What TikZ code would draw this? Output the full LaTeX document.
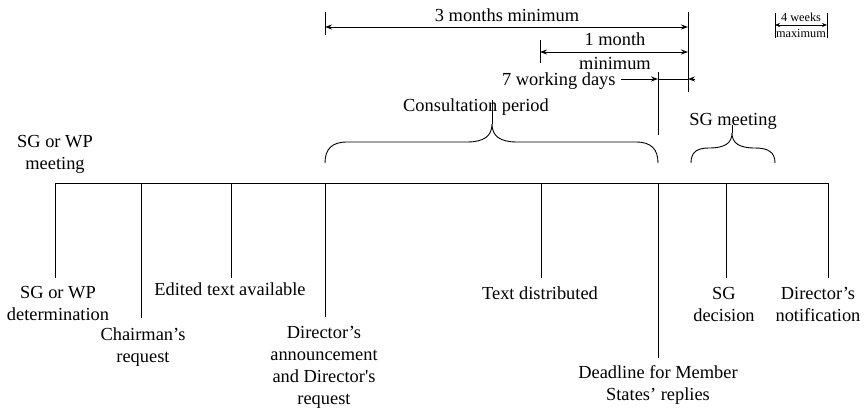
\documentclass[tikz,border=0pt]{standalone}
\usepackage{fontspec}
\setmainfont{Liberation Serif}
\usetikzlibrary{arrows.meta}
\begin{document}
\begin{tikzpicture}[x=1pt,y=-1pt,line width=0.9pt,
  lbl/.style={font=\fontsize{18.4}{22}\selectfont,align=center,inner sep=0pt},
  small/.style={font=\fontsize{12.3}{13}\selectfont,inner sep=0pt},
  tip/.style={-{Stealth[length=7pt,width=5pt]}},
  twotip/.style={{Stealth[length=7pt,width=5pt]}-{Stealth[length=7pt,width=5pt]}},
  smalltwotip/.style={{Stealth[length=5pt,width=4pt]}-{Stealth[length=5pt,width=4pt]}}]
\useasboundingbox (0,0) rectangle (865,409);

% timeline
\coordinate (a) at (55,183);
\coordinate (b) at (141,183);
\coordinate (c) at (231,183);
\coordinate (d) at (325,183);
\coordinate (e) at (541,183);
\coordinate (f) at (658,183);
\coordinate (g) at (726,183);
\coordinate (h) at (828,183);
\draw (a) -- (h);

% event ticks below the timeline
\coordinate (a1) at (55,278);
\coordinate (b1) at (141,318);
\coordinate (c1) at (231,278);
\coordinate (d1) at (325,317);
\coordinate (e1) at (541,278);
\coordinate (f1) at (658,358);
\coordinate (g1) at (726,278);
\coordinate (h1) at (828,278);
\foreach \p in {a,b,c,d,e,f,g,h} \draw (\p) -- (\p1);

% event labels
\node[lbl] (la) at (58,303) {SG or WP\\determination};
\node[lbl] (lb) at (143,347) {Chairman’s\\request};
\node[lbl] (lc) at (230,289) {Edited text available};
\node[lbl] (ld) at (324,367) {Director’s\\announcement\\and Director\textquotesingle s\\request};
\node[lbl] (le) at (540,293) {Text distributed};
\node[lbl] (lf) at (658,385) {Deadline for Member\\States’ replies};
\node[lbl] (lg) at (724,304) {SG\\decision};
\node[lbl] (lh) at (818,304) {Director’s\\notification};
\node[lbl] (lm) at (55,154) {SG or WP\\meeting};

% consultation period brace
\draw (325,163) .. controls (325,149) and (332,142) .. (347,142) -- (467,142)
  .. controls (484,142) and (492,136) .. (492,124)
  .. controls (492,136) and (500,142) .. (517,142) -- (636,142)
  .. controls (651,142) and (658,149) .. (658,163);
\draw (492,124) -- (492,100);
\node[lbl] (cp) at (476,107) {Consultation period};

% SG meeting brace
\draw (691,163) .. controls (691,152) and (697,148) .. (709,148)
  .. controls (725,148) and (732,143) .. (732,133)
  .. controls (732,143) and (739,148) .. (755,148)
  .. controls (768,148) and (775,152) .. (775,163);
\draw (732,133) -- (732,125);
\node[lbl] (sm) at (733,121) {SG meeting};

% time limits above the timeline
\coordinate (m1) at (325,12);  \coordinate (m2) at (325,35);
\coordinate (n1) at (688,12);  \coordinate (n2) at (688,92);
\coordinate (o1) at (540,40);  \coordinate (o2) at (540,63);
\coordinate (p1) at (658,72);  \coordinate (p2) at (658,135);
\draw (m1) -- (m2);
\draw (n1) -- (n2);
\draw (o1) -- (o2);
\draw (p1) -- (p2);

\coordinate (x1) at (325,27); \coordinate (x2) at (688,27);
\draw[twotip] (x1) -- (x2);
\node[lbl] (t3) at (507,15) {3 months minimum};

\coordinate (y1) at (540,52); \coordinate (y2) at (688,52);
\draw[twotip] (y1) -- (y2);
\node[lbl] (t1a) at (615,39) {1 month};
\node[lbl] (t1b) at (615,63) {minimum};

\coordinate (z0) at (621,79); \coordinate (z1) at (658,79);
\coordinate (z2) at (688,79); \coordinate (z3) at (695,79);
\node[lbl,anchor=east] (t7) at (616,81) {7 working days};
\draw[tip] (z0) -- (z1);
\draw (z1) -- (z2);
\draw[tip] (z3) -- (z2);

% four-week limit
\coordinate (q1) at (775,13); \coordinate (q2) at (775,38);
\coordinate (r1) at (827,13); \coordinate (r2) at (827,38);
\draw (q1) -- (q2);
\draw (r1) -- (r2);
\coordinate (w1) at (775,25); \coordinate (w2) at (827,25);
\draw[smalltwotip,line width=0.7pt] (w1) -- (w2);
\node[small] (t4a) at (801,17) {4 weeks};
\node[small] (t4b) at (801,33) {maximum};
\end{tikzpicture}
\end{document}
